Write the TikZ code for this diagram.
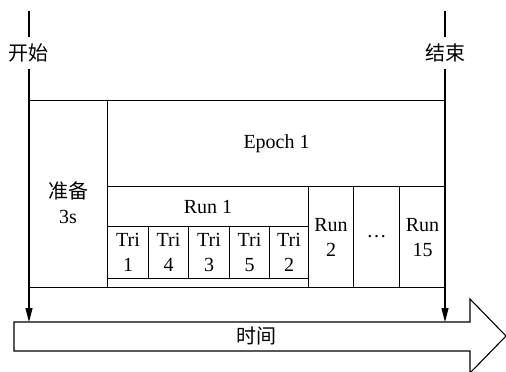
\documentclass[tikz,border=0pt]{standalone}
\usepackage{fontspec}
\setmainfont{Liberation Serif}
\newfontfamily\cjk{Noto Sans CJK SC}
\usetikzlibrary{arrows.meta}
\begin{document}
\begin{tikzpicture}[x=1pt,y=-1pt,line width=1.1pt,
  box/.style={draw,anchor=north west,inner sep=0pt,align=center,font=\fontsize{20}{25}\selectfont},
  txt/.style={inner sep=0pt,align=center,font=\fontsize{20}{25}\selectfont},
  cjklbl/.style={inner sep=0pt,minimum height=30pt,font=\cjk\fontsize{20}{24}\selectfont},
  tip/.style={-{Triangle[length=14pt,width=7pt]}}]
\useasboundingbox (0,0) rectangle (506,372);
% boxes
\node[box,minimum width=78pt,minimum height=187pt] (prep) at (29,100) {};
\node[txt] (preptxt) at (68,203) {{\cjk 准备}\\3s};
\node[box,minimum width=338pt,minimum height=86pt] (epoch) at (107,100) {Epoch 1};
\node[box,minimum width=201pt,minimum height=101pt] (run1) at (107,186) {};
\node[box,minimum width=201pt,minimum height=40pt] (run1lbl) at (107,186) {Run 1};
\node[box,minimum width=41pt,minimum height=52pt] (t1) at (107,226) {Tri\\1};
\node[box,minimum width=40pt,minimum height=52pt] (t2) at (148,226) {Tri\\4};
\node[box,minimum width=41pt,minimum height=52pt] (t3) at (188,226) {Tri\\3};
\node[box,minimum width=40pt,minimum height=52pt] (t4) at (229,226) {Tri\\5};
\node[box,minimum width=39pt,minimum height=52pt] (t5) at (269,226) {Tri\\2};
\node[box,minimum width=45pt,minimum height=101pt] (run2) at (308,186) {Run\\2};
\node[box,minimum width=46pt,minimum height=101pt] (dots) at (353,186) {\raisebox{2pt}{\dots}};
\node[box,minimum width=46pt,minimum height=101pt] (run15) at (399,186) {Run\\15};
% time arrow
\draw (14,322) -- (470,322) -- (470,299) -- (506,336) -- (470,373) -- (470,351) -- (14,351) -- cycle;
\node[cjklbl] (time) at (256,336) {时间};
% start / end markers
\node[cjklbl] (start) at (29,53) {开始};
\node[cjklbl] (end) at (445,53) {结束};
\coordinate (starttop) at (29,11);
\coordinate (endtop) at (445,11);
\coordinate (startbot) at (29,322);
\coordinate (endbot) at (445,322);
\draw (starttop) -- (start.north);
\draw (endtop) -- (end.north);
\draw[tip] (start.south) -- (startbot);
\draw[tip] (end.south) -- (endbot);
\end{tikzpicture}
\end{document}
